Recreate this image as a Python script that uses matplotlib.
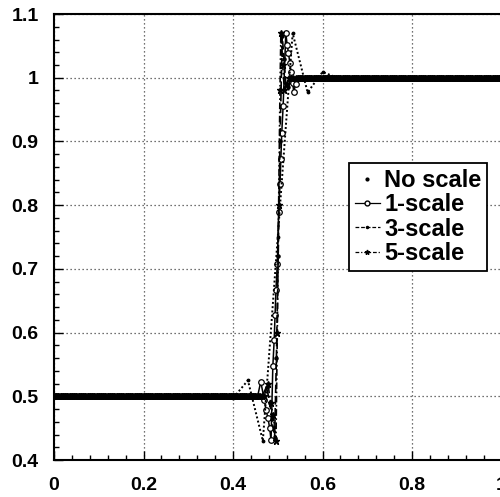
import numpy as np
import matplotlib
matplotlib.use("Agg")
import matplotlib.pyplot as plt
from matplotlib.lines import Line2D

plt.rcParams['font.family'] = ['Liberation Sans', 'DejaVu Sans']
plt.rcParams['font.weight'] = 'bold'

# ---- data ----
LOW, HIGH = 0.5, 1.0           # levels on both sides of the jump

# No scale (coarse grid, dx = 1/30)
ns_x_left = [round(i / 30, 4) for i in range(0, 12)]
ns_x_mid = [0.4, 0.4333, 0.4667, 0.5, 0.5333, 0.5667, 0.6]
ns_y_mid = [0.497, 0.525, 0.43, 0.75, 1.07, 0.977, 1.009]
ns_x_right = [round(i / 30, 4) for i in range(19, 31)]

# 1-scale
s1_x_mid = [0.455, 0.462, 0.47, 0.474, 0.478, 0.482, 0.485, 0.489, 0.492, 0.494,
            0.496, 0.499, 0.502, 0.505, 0.507, 0.509, 0.512, 0.518, 0.521, 0.524,
            0.527, 0.53, 0.533, 0.536, 0.54, 0.545]
s1_y_mid = [0.5, 0.523, 0.494, 0.478, 0.466, 0.45, 0.431, 0.547, 0.588, 0.627,
            0.667, 0.708, 0.79, 0.833, 0.873, 0.914, 0.955, 1.07, 1.052, 1.039,
            1.023, 1.009, 0.992, 0.978, 0.99, 1.0]

# 3-scale
s3_x_mid = [0.465, 0.475, 0.482, 0.487, 0.493, 0.497, 0.501, 0.505, 0.510,
            0.514, 0.518, 0.523, 0.53]
s3_y_mid = [0.5, 0.515, 0.49, 0.465, 0.435, 0.56, 0.72, 0.9, 1.065,
            1.03, 0.99, 0.985, 1.0]

# 5-scale
s5_x_mid = [0.47, 0.478, 0.484, 0.49, 0.496, 0.499, 0.502, 0.505, 0.507,
            0.511, 0.515, 0.52, 0.525]
s5_y_mid = [0.5, 0.52, 0.49, 0.47, 0.43, 0.6, 0.8, 0.98, 1.07,
            1.02, 0.98, 0.99, 1.0]

labels = ["No scale", "1-scale", "3-scale", "5-scale"]

x_ticks = [0, 0.2, 0.4, 0.6, 0.8, 1]
x_ticklabels = ["0", "0.2", "0.4", "0.6", "0.8", "1"]
y_ticks = [0.4, 0.5, 0.6, 0.7, 0.8, 0.9, 1.0, 1.1]
y_ticklabels = ["0.4", "0.5", "0.6", "0.7", "0.8", "0.9", "1", "1.1"]


def build(x_mid, y_mid, step=0.005):
    xl = list(np.round(np.arange(0, x_mid[0] - 1e-9, step), 4))
    xr = list(np.round(np.arange(round(x_mid[-1] / step) * step + step, 1 + 1e-9, step), 4))
    return (xl + list(x_mid) + xr,
            [LOW] * len(xl) + list(y_mid) + [HIGH] * len(xr))


fig = plt.figure(figsize=(5, 4.97), dpi=100)
ax = fig.add_axes([0.108, 0.0744, 0.895, 0.8974])

# 1-scale
x1, y1 = build(s1_x_mid, s1_y_mid)
ax.plot(x1, y1, '-', color='black', lw=1.1, marker='o', ms=4,
        mfc='white', mec='black', mew=0.9, zorder=3)
# 3-scale
x3, y3 = build(s3_x_mid, s3_y_mid)
ax.plot(x3, y3, color='black', lw=1.2, ls=(0, (5, 2)), marker='.', ms=4.5, zorder=4)
# 5-scale
x5, y5 = build(s5_x_mid, s5_y_mid)
ax.plot(x5, y5, color='black', lw=1.2, ls=(0, (4, 1.5, 1, 1.5)), marker='*', ms=4.5, zorder=5)
# No scale
xn = ns_x_left + ns_x_mid + ns_x_right
yn = [LOW] * len(ns_x_left) + ns_y_mid + [HIGH] * len(ns_x_right)
ax.plot(xn, yn, color='black', lw=1.4, ls=(0, (1, 1.2)), marker='.', ms=3.5, zorder=6)

ax.set_xlim(0, 1)
ax.set_ylim(0.4, 1.1)
ax.set_xticks(x_ticks)
ax.set_xticklabels(x_ticklabels)
ax.set_yticks(y_ticks)
ax.set_yticklabels(y_ticklabels)
ax.set_xticks(np.round(np.arange(0, 1.0001, 0.04), 3), minor=True)
ax.set_yticks(np.round(np.arange(0.4, 1.1001, 0.02), 3), minor=True)
ax.tick_params(which='major', direction='in', length=6.5, width=1.0,
               labelsize=14, pad=12)
ax.tick_params(axis='y', which='major', pad=11)
ax.tick_params(which='minor', direction='in', length=3.8, width=1.0)
for s in ax.spines.values():
    s.set_linewidth(1.5)
ax.grid(True, which='major', color='#444444', lw=0.9, ls=(0, (1, 2.2)))
ax.set_axisbelow(True)

handles = [
    Line2D([], [], ls='none', marker='.', ms=4, color='black'),
    Line2D([], [], ls='-', lw=0.9, marker='o', ms=3.5, mfc='white', mec='black', color='black'),
    Line2D([], [], ls=(0, (3, 1.5)), lw=0.9, marker='.', ms=3, color='black'),
    Line2D([], [], ls=(0, (3, 1.5, 1, 1.5)), lw=0.9, marker='*', ms=3.5, color='black'),
]
leg = ax.legend(handles, labels, loc='upper left', bbox_to_anchor=(0.659, 0.666),
                borderaxespad=0, prop={'size': 17, 'weight': 'bold'},
                handlelength=1.05, handletextpad=0.2,
                labelspacing=0.06, borderpad=0.25, fancybox=False, framealpha=1,
                edgecolor='black')
leg.get_frame().set_linewidth(1.3)

fig.savefig("out.png", dpi=100)
